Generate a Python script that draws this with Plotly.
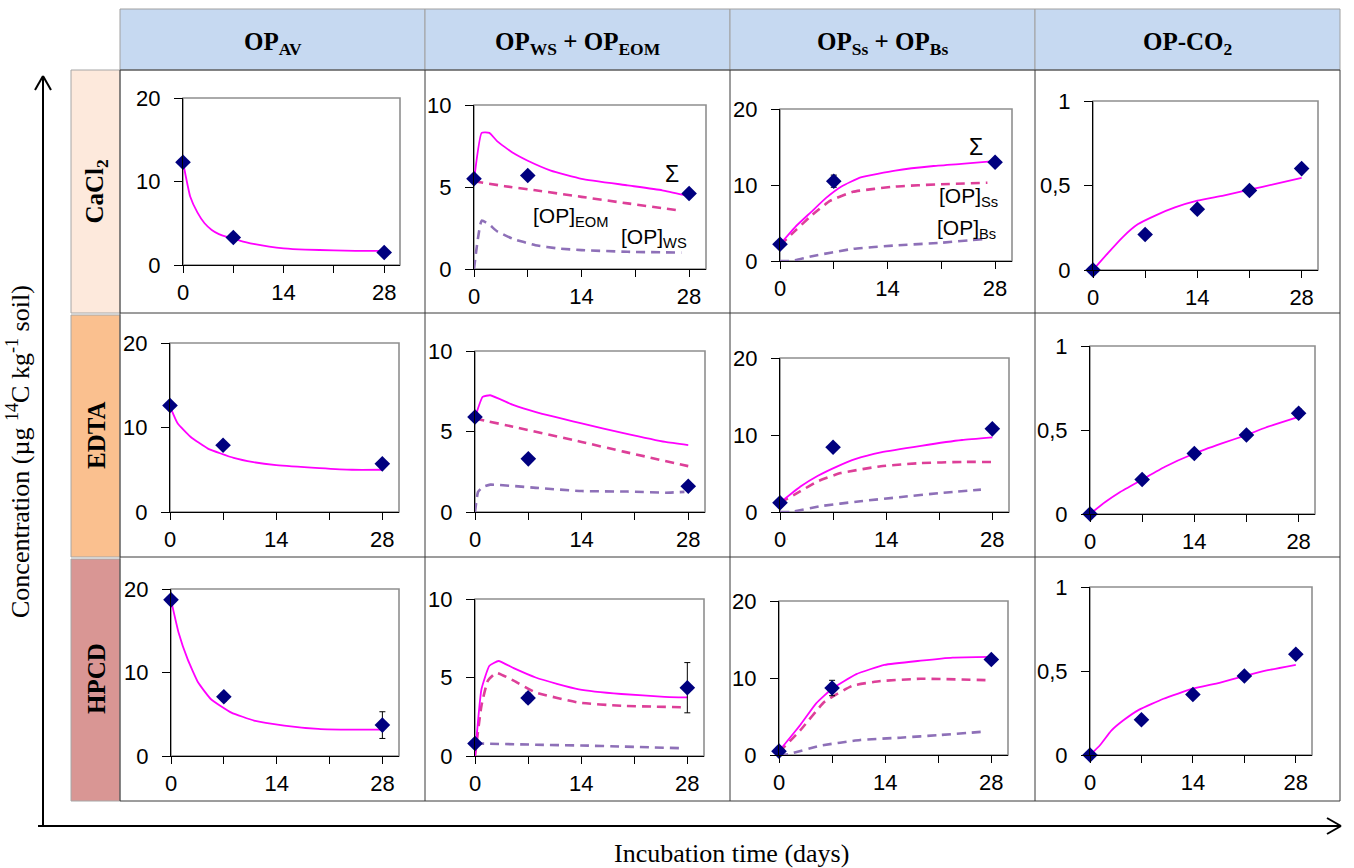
import plotly.graph_objects as go

W, H = 1354, 868

# ---------------- data ----------------
row_labels = ['CaCl<sub>2</sub>', 'EDTA', 'HPCD']
col_labels = ['OP<sub>AV</sub>', 'OP<sub>WS</sub> + OP<sub>EOM</sub>',
              'OP<sub>Ss</sub> + OP<sub>Bs</sub>', 'OP-CO<sub>2</sub>']

days_obs = [0, 7, 28]
days_co2 = [0, 7, 14, 21, 28]

# CaCl2
cacl2_av_obs = [12.3, 3.3, 1.5]
cacl2_av_err = [0.3, 0.3, 0.2]
cacl2_av_t = [0, 1, 2, 3, 4, 5, 6, 7, 8, 10, 12, 14, 17, 21, 24, 28]
cacl2_av_fit = [12.3, 8.2, 6.3, 5.0, 4.2, 3.7, 3.4, 3.2, 2.9, 2.5, 2.2, 2.0, 1.85, 1.75, 1.7, 1.7]

cacl2_we_obs = [5.5, 5.7, 4.6]
cacl2_we_err = [0.15, 0.2, 0.15]
cacl2_we_sum_t = [0, 1, 2, 3, 5, 7, 10, 14, 20, 24.5, 27.5]
cacl2_we_sum = [5.4, 8.3, 8.3, 7.8, 7.1, 6.6, 6.0, 5.5, 5.1, 4.8, 4.5]
cacl2_we_eom_t = [0, 4, 8, 14, 20, 27]
cacl2_we_eom = [5.35, 5.05, 4.8, 4.4, 4.0, 3.55]
cacl2_we_ws_t = [0, 1, 2, 3, 5, 8, 11, 14, 20, 27]
cacl2_we_ws = [0, 2.95, 2.7, 2.3, 1.85, 1.45, 1.25, 1.15, 1.05, 1.0]

cacl2_sb_obs = [2.2, 10.5, 13.0]
cacl2_sb_err = [0.3, 0.8, 0.4]
cacl2_sb_sum_t = [0, 2, 4, 6, 8, 10.5, 15, 20, 24, 27.5]
cacl2_sb_sum = [2.2, 4.5, 6.4, 8.3, 9.8, 11.0, 11.9, 12.5, 12.8, 13.1]
cacl2_sb_ss_t = [0, 2, 4, 6.5, 9.5, 15, 21, 27]
cacl2_sb_ss = [2.06, 4.0, 5.9, 7.9, 9.1, 9.8, 10.1, 10.3]
cacl2_sb_bs_t = [0, 1.5, 4, 9.5, 15, 21, 26.5]
cacl2_sb_bs = [0, 0, 0.6, 1.6, 2.05, 2.4, 2.9]

cacl2_co2_obs = [0, 0.21, 0.36, 0.47, 0.60]
cacl2_co2_err = [0.005, 0.015, 0.015, 0.015, 0.02]
cacl2_co2_t = [0, 2, 4, 6, 8.5, 11, 14, 17.5, 21, 24.5, 28]
cacl2_co2_fit = [0, 0.10, 0.195, 0.27, 0.325, 0.37, 0.41, 0.44, 0.475, 0.51, 0.545]

# EDTA
edta_av_obs = [12.6, 7.9, 5.7]
edta_av_err = [0.2, 0.2, 0.2]
edta_av_t = [0, 1, 2.7, 5, 8.4, 11, 14, 19.7, 24, 28]
edta_av_fit = [12.5, 10.5, 8.9, 7.5, 6.4, 5.9, 5.55, 5.2, 5.0, 5.0]

edta_we_obs = [5.9, 3.3, 1.6]
edta_we_err = [0.1, 0.1, 0.1]
edta_we_sum_t = [0, 1, 2, 5, 8, 14, 19.5, 25, 28]
edta_we_sum = [5.85, 7.15, 7.25, 6.65, 6.2, 5.5, 4.9, 4.35, 4.15]
edta_we_eom_t = [0, 5, 14, 19.5, 28]
edta_we_eom = [5.8, 5.3, 4.35, 3.75, 2.85]
edta_we_ws_t = [0, 0.4, 1, 2, 8, 14, 20, 25, 27.5]
edta_we_ws = [0, 1.25, 1.55, 1.7, 1.5, 1.3, 1.27, 1.2, 1.25]

edta_sb_obs = [1.2, 8.4, 10.8]
edta_sb_err = [0.3, 0.3, 0.3]
edta_sb_sum_t = [0, 2.7, 5, 7.5, 10, 13.3, 18.6, 24, 28]
edta_sb_sum = [1.2, 3.3, 4.7, 5.9, 6.9, 7.75, 8.6, 9.35, 9.7]
edta_sb_ss_t = [0, 2.7, 5, 8, 13.3, 18.6, 24, 28]
edta_sb_ss = [1.2, 2.7, 4.0, 5.05, 5.95, 6.35, 6.5, 6.5]
edta_sb_bs_t = [0, 1.4, 5.3, 10.6, 16, 21, 26.5]
edta_sb_bs = [0, 0, 0.75, 1.4, 1.95, 2.45, 2.9]

edta_co2_obs = [0, 0.205, 0.36, 0.47, 0.60]
edta_co2_err = [0.005, 0.01, 0.01, 0.01, 0.025]
edta_co2_t = [0, 2, 4, 7, 10, 14, 17.7, 21, 23.6, 28]
edta_co2_fit = [0, 0.07, 0.13, 0.205, 0.28, 0.36, 0.42, 0.47, 0.515, 0.578]

# HPCD
hpcd_av_obs = [18.7, 7.1, 3.7]
hpcd_av_err = [0.4, 0.5, 1.6]
hpcd_av_t = [0, 1, 2.2, 3.6, 5.3, 8, 11, 15, 19.5, 24, 28]
hpcd_av_fit = [18.7, 14.8, 11.6, 8.8, 6.8, 5.2, 4.25, 3.65, 3.25, 3.15, 3.15]

hpcd_we_obs = [0.8, 3.7, 4.35]
hpcd_we_err = [0.1, 0.3, 1.6]
hpcd_we_sum_t = [0, 0.85, 1.9, 3.1, 5.1, 8, 10.8, 13.7, 19.3, 25, 28]
hpcd_we_sum = [0, 4.25, 5.75, 6.05, 5.6, 5.0, 4.6, 4.25, 3.95, 3.77, 3.73]
hpcd_we_eom_t = [0, 0.85, 1.7, 2.8, 5.1, 8, 13.7, 19.3, 28]
hpcd_we_eom = [0, 3.2, 4.8, 5.3, 4.8, 4.05, 3.4, 3.2, 3.1]
hpcd_we_ws_t = [0, 8, 14, 19.5, 27]
hpcd_we_ws = [0.8, 0.72, 0.67, 0.6, 0.5]

hpcd_sb_obs = [0.5, 8.7, 12.4]
hpcd_sb_err = [0.2, 1.0, 0.4]
hpcd_sb_sum_t = [0, 2.8, 4.9, 7, 10.2, 13.9, 18.7, 22.9, 28]
hpcd_sb_sum = [0.5, 3.9, 6.7, 8.6, 10.5, 11.7, 12.25, 12.65, 12.75]
hpcd_sb_ss_t = [0, 2.8, 6, 9.7, 13.4, 18.7, 28]
hpcd_sb_ss = [0.35, 3.2, 6.9, 9.0, 9.6, 9.9, 9.7]
hpcd_sb_bs_t = [0, 1.2, 5.4, 10.7, 16, 21.3, 26.6]
hpcd_sb_bs = [0, 0.1, 1.2, 1.95, 2.25, 2.6, 3.0]

hpcd_co2_obs = [0, 0.21, 0.36, 0.47, 0.60]
hpcd_co2_err = [0.005, 0.015, 0.015, 0.015, 0.025]
hpcd_co2_t = [0, 1.3, 2.9, 4.5, 6.7, 10, 14, 17.6, 21, 24.2, 28]
hpcd_co2_fit = [0, 0.055, 0.145, 0.205, 0.27, 0.335, 0.395, 0.43, 0.47, 0.505, 0.537]

x_major_ticks = [0, 14, 28]
x_minor_ticks = [7, 21]
y_ticks_20 = [0, 10, 20]
y_ticks_10 = [0, 5, 10]
y_ticks_1 = [0, 0.5, 1]
y_text_1 = ['0', '0,5', '1']

# ---------------- styles / layout geometry ----------------
C_MARK = '#00007F'
C_SUM = '#FF00FF'
C_EOM = '#DD3F98'
C_WS = '#8E70B8'
TICK_FONT = dict(family='Liberation Sans, Arial', size=22, color='black')
SERIF = 'Liberation Serif, Times New Roman, serif'

# panel plot areas in pixels: (left, right, top, bottom)
boxes = [
    [(183, 400, 98, 265), (474, 706, 105, 269), (780, 1012, 109, 261), (1093, 1318, 101, 270)],
    [(170, 399, 343, 512), (475, 705, 351, 512), (780, 1009, 358, 512), (1090, 1315, 346, 514)],
    [(171, 399, 589, 756), (475, 704, 599, 756), (779, 1008, 601, 755), (1090, 1312, 587, 755)],
]
col_edges = [120, 425, 730, 1035, 1340]
row_edges = [70, 313, 557, 801]
header_top = 9
label_left = 71


def px(x):
    return x / W


def py(y):
    return 1 - y / H


fig = go.Figure()

panels = [
    [
        dict(obs=cacl2_av_obs, err=cacl2_av_err, t=days_obs, ymax=20,
             lines=[(cacl2_av_t, cacl2_av_fit, 'sum')]),
        dict(obs=cacl2_we_obs, err=cacl2_we_err, t=days_obs, ymax=10,
             lines=[(cacl2_we_eom_t, cacl2_we_eom, 'eom'), (cacl2_we_ws_t, cacl2_we_ws, 'ws'),
                    (cacl2_we_sum_t, cacl2_we_sum, 'sum')]),
        dict(obs=cacl2_sb_obs, err=cacl2_sb_err, t=days_obs, ymax=20,
             lines=[(cacl2_sb_ss_t, cacl2_sb_ss, 'eom'), (cacl2_sb_bs_t, cacl2_sb_bs, 'ws'),
                    (cacl2_sb_sum_t, cacl2_sb_sum, 'sum')]),
        dict(obs=cacl2_co2_obs, err=cacl2_co2_err, t=days_co2, ymax=1,
             lines=[(cacl2_co2_t, cacl2_co2_fit, 'sum')]),
    ],
    [
        dict(obs=edta_av_obs, err=edta_av_err, t=days_obs, ymax=20,
             lines=[(edta_av_t, edta_av_fit, 'sum')]),
        dict(obs=edta_we_obs, err=edta_we_err, t=days_obs, ymax=10,
             lines=[(edta_we_eom_t, edta_we_eom, 'eom'), (edta_we_ws_t, edta_we_ws, 'ws'),
                    (edta_we_sum_t, edta_we_sum, 'sum')]),
        dict(obs=edta_sb_obs, err=edta_sb_err, t=days_obs, ymax=20,
             lines=[(edta_sb_ss_t, edta_sb_ss, 'eom'), (edta_sb_bs_t, edta_sb_bs, 'ws'),
                    (edta_sb_sum_t, edta_sb_sum, 'sum')]),
        dict(obs=edta_co2_obs, err=edta_co2_err, t=days_co2, ymax=1,
             lines=[(edta_co2_t, edta_co2_fit, 'sum')]),
    ],
    [
        dict(obs=hpcd_av_obs, err=hpcd_av_err, t=days_obs, ymax=20,
             lines=[(hpcd_av_t, hpcd_av_fit, 'sum')]),
        dict(obs=hpcd_we_obs, err=hpcd_we_err, t=days_obs, ymax=10,
             lines=[(hpcd_we_eom_t, hpcd_we_eom, 'eom'), (hpcd_we_ws_t, hpcd_we_ws, 'ws'),
                    (hpcd_we_sum_t, hpcd_we_sum, 'sum')]),
        dict(obs=hpcd_sb_obs, err=hpcd_sb_err, t=days_obs, ymax=20,
             lines=[(hpcd_sb_ss_t, hpcd_sb_ss, 'eom'), (hpcd_sb_bs_t, hpcd_sb_bs, 'ws'),
                    (hpcd_sb_sum_t, hpcd_sb_sum, 'sum')]),
        dict(obs=hpcd_co2_obs, err=hpcd_co2_err, t=days_co2, ymax=1,
             lines=[(hpcd_co2_t, hpcd_co2_fit, 'sum')]),
    ],
]

line_styles = {
    'sum': dict(color=C_SUM, width=1.8, shape='spline', smoothing=0.4),
    'eom': dict(color=C_EOM, width=2.6, dash='9px,6px', shape='spline', smoothing=0.4),
    'ws': dict(color=C_WS, width=2.6, dash='9px,6px', shape='spline', smoothing=0.4),
}

shapes = []
annotations = []
layout_axes = {}

idx = 0
for r in range(3):
    for c in range(4):
        idx += 1
        p = panels[r][c]
        xa = 'x' if idx == 1 else f'x{idx}'
        ya = 'y' if idx == 1 else f'y{idx}'
        xkey = 'xaxis' if idx == 1 else f'xaxis{idx}'
        ykey = 'yaxis' if idx == 1 else f'yaxis{idx}'
        l, rr, t, b = boxes[r][c]
        ymax = p['ymax']
        if ymax == 20:
            yt, ytt = y_ticks_20, [str(v) for v in y_ticks_20]
        elif ymax == 10:
            yt, ytt = y_ticks_10, [str(v) for v in y_ticks_10]
        else:
            yt, ytt = y_ticks_1, y_text_1
        layout_axes[xkey] = dict(
            domain=[px(l), px(rr)], anchor=ya, range=[0, 30.2],
            tickmode='array', tickvals=x_major_ticks, ticktext=[str(v) for v in x_major_ticks],
            ticks='outside', ticklen=7, tickcolor='black', tickwidth=1,
            minor=dict(tickmode='array', tickvals=x_minor_ticks, ticks='outside', ticklen=7,
                       tickcolor='black', tickwidth=1, showgrid=False),
            showline=True, linecolor='black', linewidth=1.2,
            showgrid=False, zeroline=False, tickfont=TICK_FONT, ticklabelstandoff=0,
            automargin=False, fixedrange=True)
        layout_axes[ykey] = dict(
            domain=[py(b), py(t)], anchor=xa, range=[0, ymax],
            tickmode='array', tickvals=yt, ticktext=ytt, ticks='outside', ticklen=8,
            tickcolor='black', tickwidth=1, showline=True, linecolor='black', linewidth=1.2,
            showgrid=False, zeroline=False, tickfont=TICK_FONT, ticklabelstandoff=9,
            automargin=False, fixedrange=True)
        # grey plot-area frame
        shapes.append(dict(type='rect', xref=f'{xa} domain', yref=f'{ya} domain',
                           x0=0, x1=1, y0=0, y1=1, layer='below',
                           line=dict(color='#8F8F8F', width=1.6)))
        for (lt, lv, kind) in p['lines']:
            fig.add_trace(go.Scatter(x=lt, y=lv, mode='lines', line=line_styles[kind],
                                     xaxis=xa, yaxis=ya, showlegend=False, hoverinfo='skip'))
        fig.add_trace(go.Scatter(
            x=p['t'], y=p['obs'], mode='markers', xaxis=xa, yaxis=ya, showlegend=False,
            marker=dict(symbol='diamond', size=12, color=C_MARK),
            error_y=dict(type='data', array=p['err'], color='black', thickness=1, width=3),
            cliponaxis=False))

# curve labels
lab_font = dict(family='Liberation Sans, Arial', size=21, color='black')
sig_font = dict(family='Liberation Sans, Arial', size=23, color='black')
annotations += [
    dict(x=25.8, y=5.8, xref='x2', yref='y2', text='Σ', font=sig_font),
    dict(x=12.6, y=3.2, xref='x2', yref='y2', text='[OP]<sub>EOM</sub>', font=lab_font),
    dict(x=23.4, y=1.9, xref='x2', yref='y2', text='[OP]<sub>WS</sub>', font=lab_font),
    dict(x=25.5, y=15.0, xref='x3', yref='y3', text='Σ', font=sig_font),
    dict(x=24.5, y=8.4, xref='x3', yref='y3', text='[OP]<sub>Ss</sub>', font=lab_font),
    dict(x=24.3, y=4.2, xref='x3', yref='y3', text='[OP]<sub>Bs</sub>', font=lab_font),
]

# header cells
for c in range(4):
    shapes.append(dict(type='rect', xref='paper', yref='paper', layer='below',
                       x0=px(col_edges[c]), x1=px(col_edges[c + 1]),
                       y0=py(row_edges[0]), y1=py(header_top),
                       fillcolor='#C6D9F1', line=dict(color='#A0A0A0', width=1)))
    annotations.append(dict(x=px((col_edges[c] + col_edges[c + 1]) / 2), y=py(43),
                            xref='paper', yref='paper', text='<b>' + col_labels[c] + '</b>',
                            font=dict(family=SERIF, size=25, color='black')))

# row label cells
row_colors = ['#FDE9DC', '#FAC08F', '#D99694']
for r in range(3):
    shapes.append(dict(type='rect', xref='paper', yref='paper', layer='below',
                       x0=px(label_left), x1=px(col_edges[0]),
                       y0=py(row_edges[r + 1]), y1=py(row_edges[r] + (2 if r else 0)),
                       fillcolor=row_colors[r], line=dict(color='#A6A6A6', width=1)))
    annotations.append(dict(x=px(96), y=py((row_edges[r] + row_edges[r + 1]) / 2),
                            xref='paper', yref='paper', text='<b>' + row_labels[r] + '</b>',
                            textangle=-90,
                            font=dict(family=SERIF, size=25, color='black')))

# grid of cells
for xe in col_edges:
    shapes.append(dict(type='line', xref='paper', yref='paper', x0=px(xe), x1=px(xe),
                       y0=py(row_edges[0]), y1=py(row_edges[-1]),
                       line=dict(color='#3A3A3A', width=1)))
for ye in row_edges:
    shapes.append(dict(type='line', xref='paper', yref='paper', x0=px(col_edges[0]), x1=px(col_edges[-1]),
                       y0=py(ye), y1=py(ye), line=dict(color='#3A3A3A', width=1)))

# big axis arrows
arrow = dict(color='black', width=2)
shapes += [
    dict(type='line', xref='paper', yref='paper', x0=px(43), x1=px(43), y0=py(827), y1=py(76), line=arrow),
    dict(type='line', xref='paper', yref='paper', x0=px(43), x1=px(35), y0=py(76), y1=py(90), line=arrow),
    dict(type='line', xref='paper', yref='paper', x0=px(43), x1=px(51), y0=py(76), y1=py(90), line=arrow),
    dict(type='line', xref='paper', yref='paper', x0=px(38), x1=px(1340), y0=py(826), y1=py(826), line=arrow),
    dict(type='line', xref='paper', yref='paper', x0=px(1341), x1=px(1327), y0=py(826), y1=py(818), line=arrow),
    dict(type='line', xref='paper', yref='paper', x0=px(1341), x1=px(1327), y0=py(826), y1=py(834), line=arrow),
]

annotations += [
    dict(x=px(19), y=py(452), xref='paper', yref='paper', textangle=-90,
         text='Concentration (µg <sup>14</sup>C kg<sup>-1</sup> soil)',
         font=dict(family=SERIF, size=26, color='black')),
    dict(x=px(731), y=py(853), xref='paper', yref='paper',
         text='Incubation time (days)', font=dict(family=SERIF, size=26, color='black')),
]
for a in annotations:
    a.update(showarrow=False, xanchor='center', yanchor='middle')

fig.update_layout(
    width=W, height=H, autosize=False,
    margin=dict(l=0, r=0, t=0, b=0, pad=0, autoexpand=False),
    paper_bgcolor='white', plot_bgcolor='rgba(0,0,0,0)',
    shapes=shapes, annotations=annotations, showlegend=False,
    **layout_axes)

fig.write_html("out.html",
               post_script="document.body.style.margin='0';document.body.style.overflow='hidden';",
               config={'displayModeBar': False})
